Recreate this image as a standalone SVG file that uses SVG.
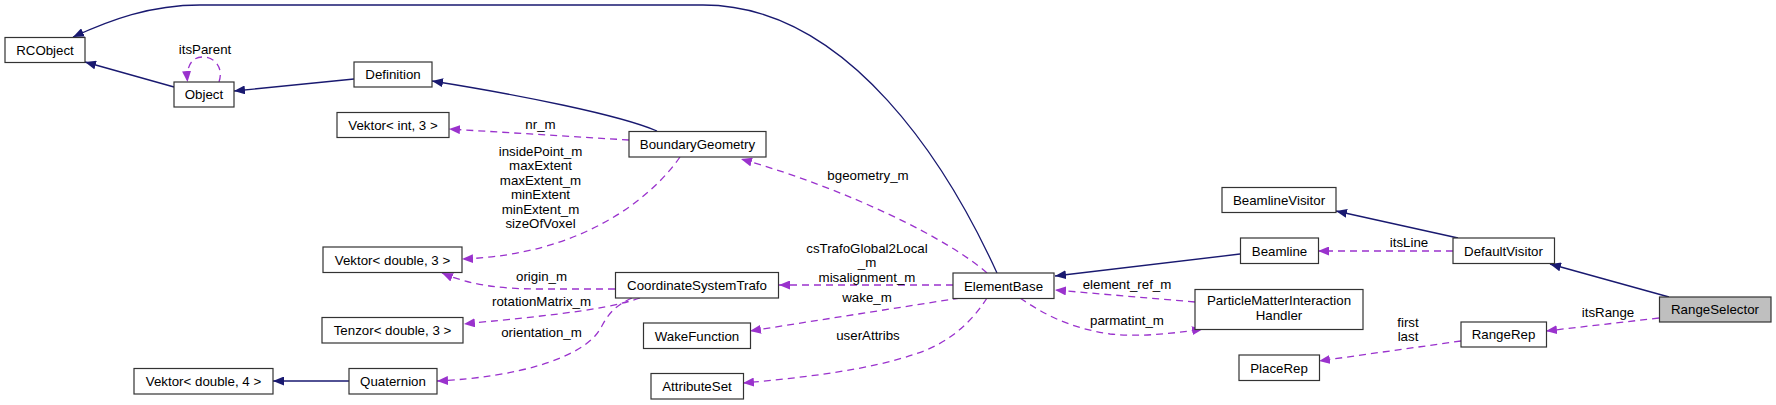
<svg xmlns="http://www.w3.org/2000/svg" width="1776" height="405" viewBox="0 0 1776 405">
<style>
.n rect{fill:#fff;stroke:#333;stroke-width:1.2}
.n.sel rect{fill:#bfbfbf}
text{font-family:"Liberation Sans",Arial,Helvetica,sans-serif;font-size:13.3px;fill:#000;text-anchor:middle}
.inh{fill:none;stroke:#191970;stroke-width:1.3;marker-end:url(#an)}
.use{fill:none;stroke:#9a32cd;stroke-width:1.3;stroke-dasharray:7,5;marker-end:url(#ap)}
</style>
<defs>
<marker id="an" markerUnits="userSpaceOnUse" markerWidth="12" markerHeight="9" refX="11" refY="4.5" orient="auto"><path d="M0,0 L11,4.5 L0,9 z" fill="#191970" stroke="none"/></marker>
<marker id="ap" markerUnits="userSpaceOnUse" markerWidth="12" markerHeight="9" refX="11" refY="4.5" orient="auto"><path d="M0,0 L11,4.5 L0,9 z" fill="#9a32cd" stroke="none"/></marker>
</defs>
<rect width="1776" height="405" fill="#fff"/>
<g id="edges">
<path class="inh" d="M997,273 C950,170 850,5 703,5 L200,5 C150,5 110,20 73,37"/>
<path class="inh" d="M174,87 L85,62"/>
<path class="inh" d="M354,79 L234,91"/>
<path class="inh" d="M657,131 C620,115 520,95 432,81"/>
<path class="inh" d="M1240,254 L1055,276"/>
<path class="inh" d="M349,381 L273,381"/>
<path class="inh" d="M1458,238 L1336,211"/>
<path class="inh" d="M1669,297 L1550,264"/>
<path class="use" d="M219,82 C224,67 214,57 203,57 C193,57 186,64 187.5,82"/>
<path class="use" d="M629,140 L449,129"/>
<path class="use" d="M680,157 C650,200 580,255 462,259"/>
<path class="use" d="M987,273 C950,240 850,190 741,159"/>
<path class="use" d="M953,285 L779,285"/>
<path class="use" d="M615,289 L540,289 C500,289 470,285 442,273"/>
<path class="use" d="M640,298 C600,312 520,318 464,324"/>
<path class="use" d="M632,298 C605,310 605,325 595,336 C575,358 520,377 437,381"/>
<path class="use" d="M960,298 L750,331"/>
<path class="use" d="M987,298 C970,325 945,345 915,354 C870,370 800,378 743,383"/>
<path class="use" d="M1195,302 L1055,290"/>
<path class="use" d="M1020,298 C1045,315 1070,328 1110,334 C1140,337 1170,334 1203,329"/>
<path class="use" d="M1453,251 L1318,251"/>
<path class="use" d="M1659,318 L1546,331"/>
<path class="use" d="M1461,341 L1319,361"/>
<text x="205" y="53.5">itsParent</text>
<text x="540.5" y="128.5">nr_m</text>
<text x="540.5" y="155.5">insidePoint_m</text>
<text x="540.5" y="170">maxExtent</text>
<text x="540.5" y="184.5">maxExtent_m</text>
<text x="540.5" y="199">minExtent</text>
<text x="540.5" y="213.5">minExtent_m</text>
<text x="540.5" y="228">sizeOfVoxel</text>
<text x="868" y="179.5">bgeometry_m</text>
<text x="867" y="252.5">csTrafoGlobal2Local</text>
<text x="867" y="267">_m</text>
<text x="867" y="281.5">misalignment_m</text>
<text x="541.5" y="280.5">origin_m</text>
<text x="541.5" y="305.5">rotationMatrix_m</text>
<text x="541.5" y="337">orientation_m</text>
<text x="867" y="301.5">wake_m</text>
<text x="868" y="339.5">userAttribs</text>
<text x="1127" y="288.5">element_ref_m</text>
<text x="1127" y="325">parmatint_m</text>
<text x="1409" y="247">itsLine</text>
<text x="1608" y="317">itsRange</text>
<text x="1408" y="327">first</text>
<text x="1408" y="341">last</text>
</g>
<g id="RCObject" class="n"><rect x="5" y="37.5" width="80" height="25"/><text x="45" y="54.5">RCObject</text></g>
<g id="Object" class="n"><rect x="174" y="82" width="60" height="25"/><text x="204" y="99">Object</text></g>
<g id="Definition" class="n"><rect x="354" y="62" width="78" height="25"/><text x="393" y="79">Definition</text></g>
<g id="VektorInt3" class="n"><rect x="337" y="112.5" width="112" height="25"/><text x="393" y="129.5">Vektor&lt; int, 3 &gt;</text></g>
<g id="BoundaryGeometry" class="n"><rect x="629" y="131.5" width="137" height="25.5"/><text x="697.5" y="149">BoundaryGeometry</text></g>
<g id="VektorDouble3" class="n"><rect x="323" y="247" width="139" height="25.5"/><text x="392.5" y="264.5">Vektor&lt; double, 3 &gt;</text></g>
<g id="TenzorDouble3" class="n"><rect x="322" y="317.5" width="141" height="25.5"/><text x="392.5" y="335">Tenzor&lt; double, 3 &gt;</text></g>
<g id="VektorDouble4" class="n"><rect x="134" y="368.5" width="139" height="25.5"/><text x="203.5" y="386">Vektor&lt; double, 4 &gt;</text></g>
<g id="Quaternion" class="n"><rect x="349" y="368.5" width="88" height="25.5"/><text x="393" y="386">Quaternion</text></g>
<g id="CoordinateSystemTrafo" class="n"><rect x="615.5" y="272.5" width="163" height="25.5"/><text x="697" y="290">CoordinateSystemTrafo</text></g>
<g id="WakeFunction" class="n"><rect x="643.5" y="323" width="107" height="25.5"/><text x="697" y="340.5">WakeFunction</text></g>
<g id="AttributeSet" class="n"><rect x="651" y="373.5" width="92.5" height="25.5"/><text x="697" y="391">AttributeSet</text></g>
<g id="ElementBase" class="n"><rect x="953" y="273" width="101" height="25.5"/><text x="1003.5" y="290.5">ElementBase</text></g>
<g id="BeamlineVisitor" class="n"><rect x="1222" y="187.5" width="114" height="25"/><text x="1279" y="204.5">BeamlineVisitor</text></g>
<g id="Beamline" class="n"><rect x="1240.5" y="238" width="78" height="25.5"/><text x="1279.5" y="255.5">Beamline</text></g>
<g id="ParticleMatterInteractionHandler" class="n"><rect x="1195" y="289.5" width="168" height="40"/><text x="1279" y="305">ParticleMatterInteraction</text><text x="1279" y="319.5">Handler</text></g>
<g id="PlaceRep" class="n"><rect x="1239" y="355" width="80.5" height="25.5"/><text x="1279" y="372.5">PlaceRep</text></g>
<g id="DefaultVisitor" class="n"><rect x="1453" y="238" width="101.5" height="25.5"/><text x="1503.5" y="255.5">DefaultVisitor</text></g>
<g id="RangeRep" class="n"><rect x="1461" y="322" width="85.5" height="25"/><text x="1503.5" y="339">RangeRep</text></g>
<g id="RangeSelector" class="n sel"><rect x="1659.5" y="297" width="111.5" height="25"/><text x="1715" y="314">RangeSelector</text></g>
</svg>
